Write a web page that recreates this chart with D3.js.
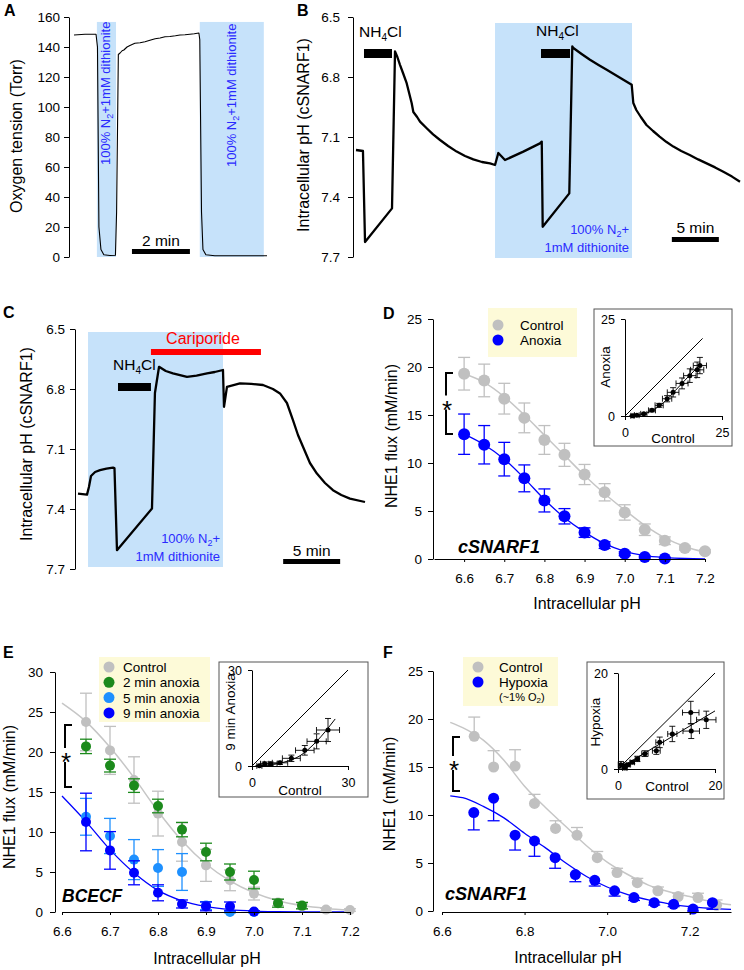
<!DOCTYPE html>
<html>
<head>
<meta charset="utf-8">
<script src="https://cdn.jsdelivr.net/npm/d3@7"></script>
<style>
  body { margin: 0; background: #fff; }
  svg { display: block; }
</style>
</head>
<body>
<svg id="fig" width="744" height="970"></svg>
<script>
// ---------- panel A: oxygen tension (time in min, Torr) ----------
const aTime = [0, 0.38, 0.76, 0.81, 0.86, 0.93, 1.03, 1.24, 1.43, 1.47, 1.53, 1.59, 1.66, 1.72, 1.83, 1.93, 2.1, 2.28, 2.45, 2.62, 2.8, 2.97, 3.14, 3.31, 3.5, 3.66, 3.83, 4.0, 4.15, 4.31, 4.34, 4.40, 4.45, 4.55, 4.86, 6.66];
const aTorr = [148, 148.5, 148.5, 140, 20, 5, 1.5, 1, 1.2, 30, 135, 136, 137.5, 138, 140, 141, 142.5, 142.8, 143.5, 144.5, 145.5, 146, 146.8, 147, 147.5, 148, 148.2, 148.5, 148.8, 149.3, 145, 30, 5, 1.5, 0.8, 0.8];
const aTicks = [0, 20, 40, 60, 80, 100, 120, 140, 160];
const aAnoxia = [[0.79, 1.45], [4.34, 6.55]];

// ---------- panel B: pHi trace ----------
const bTime = [0, 0.74, 0.96, 3.83, 4.15, 4.4, 4.68, 5.0, 5.39, 5.92, 6.1, 6.5, 6.81, 7.52, 8.2, 8.94, 9.8, 10.71, 11.6, 12.48, 13.4, 14.26, 14.79, 15.14, 15.85, 17.8, 19.57, 19.76, 19.86, 22.69, 23.01, 23.12, 24.0, 24.89, 25.8, 26.67, 27.6, 28.44, 29.33, 29.50, 29.82, 30.3, 30.9, 31.6, 32.3, 33.0, 33.76, 34.6, 35.5, 36.4, 37.3, 38.2, 39.08, 40.0, 40.85];
const bPH = [7.165, 7.17, 7.625, 7.457, 6.672, 6.70, 6.739, 6.78, 6.831, 6.93, 6.975, 7.0, 7.023, 7.056, 7.087, 7.115, 7.145, 7.173, 7.195, 7.212, 7.225, 7.232, 7.24, 7.18, 7.215, 7.173, 7.132, 7.123, 7.549, 7.382, 6.647, 6.655, 6.685, 6.714, 6.74, 6.764, 6.79, 6.814, 6.839, 6.93, 6.965, 7.0, 7.04, 7.07, 7.098, 7.124, 7.148, 7.17, 7.19, 7.212, 7.232, 7.252, 7.274, 7.298, 7.324];
const bAnoxia = [14.79, 29.36];
const bNH4 = [[0.85, 3.83], [19.68, 22.77]];
const phTicks = [6.5, 6.8, 7.1, 7.4, 7.7];

// ---------- panel C: pHi trace with cariporide ----------
const cTime = [0, 0.79, 0.96, 1.14, 1.5, 1.93, 2.5, 3.07, 3.2, 3.42, 6.49, 6.75, 7.11, 7.7, 8.33, 9.56, 10.4, 11.32, 12.0, 12.72, 12.81, 13.07, 14.21, 15.2, 16.23, 17.1, 17.72, 18.33, 18.86, 19.3, 19.74, 20.35, 20.96, 21.67, 22.37, 23.1, 23.86, 25.18];
const cPH = [7.323, 7.328, 7.29, 7.235, 7.215, 7.206, 7.198, 7.193, 7.195, 7.606, 7.398, 6.82, 6.689, 6.71, 6.722, 6.739, 6.733, 6.722, 6.715, 6.705, 6.889, 6.789, 6.772, 6.774, 6.78, 6.80, 6.822, 6.87, 6.956, 7.03, 7.089, 7.17, 7.223, 7.27, 7.306, 7.33, 7.348, 7.365];
const cAnoxia = [0.88, 12.72];
const cNH4 = [3.51, 6.40];
const cCariporide = [6.40, 16.05];

// ---------- panel D: NHE1 flux, cSNARF1 ----------
const dPH = [6.6, 6.65, 6.7, 6.75, 6.8, 6.85, 6.9, 6.95, 7.0, 7.05, 7.1, 7.15, 7.2];
const dControl = [19.3, 18.6, 16.7, 14.7, 12.4, 10.85, 8.8, 6.95, 4.85, 3.05, 1.9, 1.15, 0.8];
const dControlErr = [1.7, 1.7, 1.6, 1.55, 1.5, 1.2, 1.05, 0.9, 0.8, 0.6, 0.4, 0.2, 0.15];
const dAnoxia = [13.0, 11.9, 10.4, 8.4, 6.1, 4.45, 2.75, 1.45, 0.55, 0.2, 0.05];
const dAnoxiaErr = [2.1, 2.0, 1.75, 1.4, 1.2, 0.8, 0.5, 0.35, 0.2, 0.1, 0.1];
const dFitControl = [19.3, 18.4, 16.9, 15.0, 12.9, 10.8, 8.7, 6.8, 5.1, 3.5, 2.2, 1.3, 0.7];
const dFitAnoxia = [13.0, 11.9, 10.4, 8.4, 6.2, 4.3, 2.8, 1.6, 0.8, 0.35, 0.15, 0.05, 0.02];
const dInsetFitX = [1.5, 4, 7, 10, 13, 16, 19.5];
const dInsetFitY = [0, 0.3, 1.4, 3.5, 6.6, 9.8, 13.3];
const dLegend = ['Control', 'Anoxia'];

// ---------- panel E: NHE1 flux, BCECF ----------
const ePH = [6.65, 6.7, 6.75, 6.8, 6.85, 6.9, 6.95, 7.0, 7.05, 7.1, 7.15, 7.2];
const eControl = [23.75, 20.2, 16.5, 12.3, 8.75, 5.83, 3.96, 2.3, 1.2, 0.7, 0.3, 0.25];
const eControlErr = [3.6, 3.0, 2.9, 2.8, 2.4, 2.0, 1.3, 0.8, 0.4, 0.3, 0.2, 0.15];
const eAnox2 = [20.7, 18.3, 15.8, 13.25, 10.3, 7.5, 5.0, 4.0, 1.1, 0.8];
const eAnox2Err = [0.9, 0.8, 0.85, 0.85, 0.9, 1.1, 1.0, 1.1, 0.5, 0.4];
const eAnox5 = [11.9, 9.5, 6.55, 5.5, 5.0, 0.8, 0.0, 0.0];
const eAnox5Err = [2.3, 2.2, 2.5, 2.3, 2.3, 0.5, 0.1, 0.1];
const eAnox9 = [11.25, 7.7, 4.9, 2.4, 1.0, 0.7, 0.7, 0.05];
const eAnox9Err = [3.6, 2.35, 1.5, 1.0, 0.5, 0.55, 0.55, 0.1];
const eFitPH = [6.6, 6.65, 6.7, 6.75, 6.8, 6.85, 6.9, 6.95, 7.0, 7.05, 7.1, 7.15, 7.2];
const eFitControl = [26.1, 23.8, 20.6, 16.8, 12.6, 8.9, 6.0, 3.9, 2.4, 1.4, 0.8, 0.45, 0.25];
const eFitAnoxia = [14.5, 11.3, 7.8, 4.9, 2.7, 1.4, 0.7, 0.3, 0.12, 0.05, 0.02, 0.01, 0];
const eInsetFitX = [1, 5, 10, 15, 20, 26];
const eInsetFitY = [0, 0.3, 1.2, 3.2, 7.5, 14.7];
const eLegend = ['Control', '2 min anoxia', '5 min anoxia', '9 min anoxia'];

// ---------- panel F: NHE1, hypoxia ----------
const fCtrlPH = [6.678, 6.725, 6.777, 6.824, 6.875, 6.927, 6.976, 7.024, 7.073, 7.123, 7.172, 7.22, 7.265];
const fControl = [18.2, 15.0, 15.1, 11.2, 8.6, 7.9, 5.55, 4.0, 2.95, 2.1, 1.5, 1.4, 0.6];
const fControlErr = [2.0, 1.7, 1.7, 0.95, 0.8, 0.8, 0.65, 0.45, 0.45, 0.4, 0.35, 0.45, 0.55];
const fHypPH = [6.677, 6.725, 6.777, 6.824, 6.874, 6.923, 6.97, 7.018, 7.065, 7.114, 7.161, 7.208, 7.255];
const fHypoxia = [10.25, 11.75, 7.9, 7.3, 5.55, 3.8, 3.2, 2.1, 1.4, 0.87, 0.7, 0.2, 0.87];
const fHypoxiaErr = [1.8, 2.35, 1.55, 1.6, 1.1, 0.75, 0.6, 0.55, 0.3, 0.25, 0.25, 0.2, 0.7];
const fFitPH = [6.62, 6.65, 6.7, 6.75, 6.8, 6.85, 6.9, 6.95, 7.0, 7.05, 7.1, 7.15, 7.2, 7.25, 7.3];
const fFitControl = [19.65, 19.1, 17.8, 15.7, 13.0, 10.8, 8.8, 6.8, 5.1, 3.8, 2.7, 2.0, 1.5, 1.0, 0.65];
const fFitHypoxia = [12.0, 11.8, 10.9, 9.7, 8.1, 6.6, 5.0, 3.6, 2.5, 1.7, 1.15, 0.75, 0.45, 0.28, 0.17];
const fInsetFitX = [0, 20];
const fInsetFitY = [0, 12.1];

const FONT = "'Liberation Sans', Arial, Helvetica, sans-serif";
const GRAY = '#c0c0c0', GRAYLINE = '#c6c6c6', BLUE = '#0000ff', LBLUE = '#1e90ff', GREEN = '#1c8a1c';
const BG = '#c6e2fa', LEG = '#fdfad8', TXTBLUE = '#2a2aff';

const svg = d3.select('#fig').attr('font-family', FONT);
svg.append('rect').attr('width', 744).attr('height', 970).attr('fill', '#fff');

// ---------- helpers ----------
function styleAxis(g, size) {
  g.attr('font-family', FONT);
  g.select('.domain').attr('stroke', '#000').attr('stroke-width', 1);
  g.selectAll('.tick line').attr('stroke', '#000');
  g.selectAll('.tick text').attr('font-size', size).attr('fill', '#000');
}
function yAxis(x, scale, ticks, fmt, pad, size = 13.5, ts = 5) {
  const g = svg.append('g').attr('transform', `translate(${x},0)`)
    .call(d3.axisLeft(scale).tickValues(ticks).tickFormat(fmt).tickSize(ts).tickSizeOuter(0).tickPadding(pad));
  styleAxis(g, size);
}
function xAxis(y, scale, ticks, fmt, pad, size = 13.5, ts = 3) {
  const g = svg.append('g').attr('transform', `translate(0,${y})`)
    .call(d3.axisBottom(scale).tickValues(ticks).tickFormat(fmt).tickSize(ts).tickSizeOuter(0).tickPadding(pad));
  styleAxis(g, size);
}
function text(t, x, y, size, opt = {}) {
  return svg.append('text').attr('x', x).attr('y', y).attr('font-size', size)
    .attr('text-anchor', opt.anchor || 'start').attr('fill', opt.fill || '#000')
    .attr('font-weight', opt.weight || 'normal').attr('font-style', opt.style || 'normal').text(t);
}
function vtext(t, x, y, size, anchor = 'middle', fill = '#000') {
  return svg.append('text').attr('transform', `translate(${x},${y}) rotate(-90)`)
    .attr('text-anchor', anchor).attr('font-size', size).attr('fill', fill).text(t);
}
function bar(x0, x1, y, h, fill) {
  svg.append('rect').attr('x', x0).attr('y', y).attr('width', x1 - x0).attr('height', h).attr('fill', fill);
}
function trace(xs, ys, x, y, w) {
  svg.append('path').datum(xs.map((t, i) => [t, ys[i]]))
    .attr('d', d3.line().x(d => x(d[0])).y(d => y(d[1])))
    .attr('fill', 'none').attr('stroke', '#000').attr('stroke-width', w).attr('stroke-linejoin', 'round');
}
function fit(xs, ys, x, y, color, w) {
  svg.append('path').datum(xs.map((t, i) => [t, ys[i]]))
    .attr('d', d3.line().curve(d3.curveMonotoneX).x(d => x(d[0])).y(d => y(d[1])))
    .attr('fill', 'none').attr('stroke', color).attr('stroke-width', w);
}
function nh4cl(x, y, anchor = 'start') {
  const t = svg.append('text').attr('x', x).attr('y', y).attr('font-size', 15.5).attr('text-anchor', anchor);
  t.append('tspan').text('NH');
  t.append('tspan').text('4').attr('font-size', 10).attr('dy', 4);
  t.append('tspan').text('Cl').attr('dy', -4);
}
function n2label(x, y) {
  const t = svg.append('text').attr('x', x).attr('y', y).attr('font-size', 13)
    .attr('text-anchor', 'end').attr('fill', TXTBLUE);
  t.append('tspan').text('100% N');
  t.append('tspan').text('2').attr('font-size', 9).attr('dy', 3);
  t.append('tspan').text('+').attr('dy', -3);
  text('1mM dithionite', x, y + 18, 13, { anchor: 'end', fill: TXTBLUE });
}
// error bars + points; dir: both | up | down
function series(x, y, xs, vs, es, color, r, cap, dir = 'both') {
  const d = vs.map((v, i) => ({ x: xs[i], v, e: es[i] }));
  const g = svg.append('g').attr('stroke', color).attr('stroke-width', 1.3);
  const lo = p => dir === 'up' ? p.v : p.v - p.e;
  const hi = p => dir === 'down' ? p.v : p.v + p.e;
  g.selectAll('line.v').data(d).join('line').attr('class', 'v')
    .attr('x1', p => x(p.x)).attr('x2', p => x(p.x)).attr('y1', p => y(hi(p))).attr('y2', p => y(lo(p)));
  const caps = [];
  d.forEach(p => {
    if (dir !== 'down') caps.push({ x: p.x, v: hi(p) });
    if (dir !== 'up') caps.push({ x: p.x, v: lo(p) });
  });
  g.selectAll('line.c').data(caps).join('line').attr('class', 'c')
    .attr('x1', p => x(p.x) - cap).attr('x2', p => x(p.x) + cap).attr('y1', p => y(p.v)).attr('y2', p => y(p.v));
  svg.append('g').selectAll('circle').data(d).join('circle')
    .attr('cx', p => x(p.x)).attr('cy', p => y(p.v)).attr('r', r).attr('fill', color);
}
// significance bracket with asterisk sitting on its vertical stroke
function bracket(x, y0, y1) {
  const m = (y0 + y1) / 2;
  svg.append('path').attr('d', `M${x + 7},${y0}H${x}V${m - 8}M${x},${m + 6}V${y1}H${x + 7}`)
    .attr('fill', 'none').attr('stroke', '#000').attr('stroke-width', 2);
  text('*', x + 1, m + 15, 26, { anchor: 'middle' });
}
function legend(box, items, colors, cx, tx, y0, step, r) {
  svg.append('rect').attr('x', box[0]).attr('y', box[1]).attr('width', box[2] - box[0])
    .attr('height', box[3] - box[1]).attr('fill', LEG);
  items.forEach((t, i) => {
    svg.append('circle').attr('cx', cx).attr('cy', y0 + i * step).attr('r', r).attr('fill', colors[i]);
    text(t, tx, y0 + i * step + 5, 13.5);
  });
}
// inset: control vs treated flux with x/y error bars
function inset(o) {
  svg.append('rect').attr('x', o.box[0]).attr('y', o.box[1]).attr('width', o.box[2] - o.box[0])
    .attr('height', o.box[3] - o.box[1]).attr('fill', '#fff').attr('stroke', '#555').attr('stroke-width', 1);
  const x = d3.scaleLinear().domain([0, o.max]).range(o.xr);
  const y = d3.scaleLinear().domain([0, o.max]).range(o.yr);
  yAxis(o.xr[0], y, [0, o.max], d3.format('d'), 6, 12.5, 4);
  xAxis(o.yr[0], x, [0, o.max], d3.format('d'), 8, 12.5, 4);
  svg.append('line').attr('x1', x(0)).attr('y1', y(0)).attr('x2', x(o.ident)).attr('y2', y(o.ident))
    .attr('stroke', '#000').attr('stroke-width', 1);
  fit(o.fitX, o.fitY, x, y, '#000', 1);
  const n = Math.min(o.xs.length, o.ys.length);
  const d = d3.range(n).map(i => ({ cx: o.xs[i], cy: o.ys[i], ex: o.xe[i], ey: o.ye[i] }));
  const g = svg.append('g').attr('stroke', '#000').attr('stroke-width', 0.9);
  d.forEach(p => {
    g.append('line').attr('x1', x(p.cx - p.ex)).attr('x2', x(p.cx + p.ex)).attr('y1', y(p.cy)).attr('y2', y(p.cy));
    g.append('line').attr('x1', x(p.cx)).attr('x2', x(p.cx)).attr('y1', y(p.cy - p.ey)).attr('y2', y(p.cy + p.ey));
    [p.cx - p.ex, p.cx + p.ex].forEach(v => g.append('line').attr('x1', x(v)).attr('x2', x(v)).attr('y1', y(p.cy) - 3).attr('y2', y(p.cy) + 3));
    [p.cy - p.ey, p.cy + p.ey].forEach(v => g.append('line').attr('x1', x(p.cx) - 3).attr('x2', x(p.cx) + 3).attr('y1', y(v)).attr('y2', y(v)));
  });
  svg.append('g').selectAll('circle').data(d).join('circle')
    .attr('cx', p => x(p.cx)).attr('cy', p => y(p.cy)).attr('r', 2.5).attr('fill', '#000');
  text('Control', o.ctl[0], o.ctl[1], 13.5, { anchor: 'middle' });
  vtext(o.ylab, o.ylabPos[0], o.ylabPos[1], 13.5);
}

// ---------- panel letters ----------
[['A', 4, 16], ['B', 297, 16], ['C', 3, 318], ['D', 383, 319], ['E', 3, 658], ['F', 383, 658]]
  .forEach(([t, x, y]) => text(t, x, y, 16, { weight: 'bold' }));

// ---------- panel A ----------
{
  const x = d3.scaleLinear().domain([0, 6.66]).range([74, 267]);
  const y = d3.scaleLinear().domain([0, 160]).range([257, 17]);
  aAnoxia.forEach(([t0, t1]) => bar(x(t0), x(t1), y(156.7), y(0) - y(156.7), BG));
  [[110, 165], [236, 167]].forEach(([px, py]) => {
    const t = svg.append('text').attr('transform', `translate(${px},${py}) rotate(-90)`)
      .attr('font-size', 13).attr('fill', TXTBLUE);
    t.append('tspan').text('100% N');
    t.append('tspan').text('2').attr('font-size', 9).attr('dy', 3);
    t.append('tspan').text('+1mM dithionite').attr('dy', -3);
  });
  trace(aTime, aTorr, x, y, 1.1);
  yAxis(69, y, aTicks, d3.format('d'), 4);
  vtext('Oxygen tension (Torr)', 22, 136, 16);
  bar(x(2.0), x(4.0), 249, 5, '#000');
  text('2 min', x(3.0), 246, 15.5, { anchor: 'middle' });
}

// ---------- panel B ----------
{
  const x = d3.scaleLinear().domain([0, 40.85]).range([356, 740]);
  const y = d3.scaleLinear().domain([6.5, 7.7]).range([17, 257]);
  bar(x(bAnoxia[0]), x(bAnoxia[1]), y(6.53), y(7.705) - y(6.53), BG);
  trace(bTime, bPH, x, y, 2.3);
  yAxis(353, y, phTicks, d3.format('.1f'), 8);
  vtext('Intracellular pH (cSNARF1)', 309, 135, 16);
  bNH4.forEach(([t0, t1]) => bar(x(t0), x(t1), 49, 9, '#000'));
  nh4cl(359, 37);
  nh4cl(536, 36);
  n2label(629, 234);
  bar(x(33.6), x(38.6), 237, 5, '#000');
  text('5 min', x(36.1), 233, 15.5, { anchor: 'middle' });
}

// ---------- panel C ----------
{
  const x = d3.scaleLinear().domain([0, 25.18]).range([78, 365]);
  const y = d3.scaleLinear().domain([6.5, 7.7]).range([329, 569]);
  bar(x(cAnoxia[0]), x(cAnoxia[1]), y(6.515), y(7.69) - y(6.515), BG);
  trace(cTime, cPH, x, y, 2.3);
  yAxis(75, y, phTicks, d3.format('.1f'), 5);
  vtext('Intracellular pH (cSNARF1)', 32, 444, 16);
  bar(x(cCariporide[0]), x(cCariporide[1]), 349, 6, '#ff0000');
  text('Cariporide', 203, 344, 16, { anchor: 'middle', fill: '#ff0000' });
  bar(x(cNH4[0]), x(cNH4[1]), 383, 8, '#000');
  nh4cl(113, 370);
  n2label(220, 543);
  bar(x(18.0), x(23.0), 559, 5, '#000');
  text('5 min', x(20.5), 556, 15.5, { anchor: 'middle' });
}

// ---------- panel D ----------
{
  const x = d3.scaleLinear().domain([6.525, 7.2]).range([434, 705]);
  const y = d3.scaleLinear().domain([0, 25]).range([559, 319]);
  fit(dPH, dFitControl, x, y, GRAYLINE, 1.5);
  fit(dPH, dFitAnoxia, x, y, BLUE, 1.3);
  series(x, y, dPH, dControl, dControlErr, GRAY, 6, 6);
  series(x, y, dPH, dAnoxia, dAnoxiaErr, BLUE, 6, 6);
  yAxis(433, y, [0, 5, 10, 15, 20, 25], d3.format('d'), 6);
  xAxis(559, x, d3.range(6.6, 7.21, 0.1), d3.format('.1f'), 11);
  vtext('NHE1 flux (mM/min)', 397, 436, 16);
  text('Intracellular pH', 587, 609, 16, { anchor: 'middle' });
  legend([488, 308, 577, 357], dLegend, [GRAY, BLUE], 498, 520, 325, 15, 5.5);
  bracket(446, 373, 434);
  text('cSNARF1', 458, 553, 18, { weight: 'bold', style: 'italic' });
  inset({
    box: [594, 309, 732, 446], max: 25, xr: [625, 722], yr: [416, 319], ident: 20,
    xs: dControl, ys: dAnoxia, xe: dControlErr, ye: dAnoxiaErr,
    fitX: dInsetFitX, fitY: dInsetFitY, ctl: [673, 443], ylab: 'Anoxia', ylabPos: [610, 367]
  });
}

// ---------- panel E ----------
{
  const x = d3.scaleLinear().domain([6.6, 7.2]).range([62, 350]);
  const y = d3.scaleLinear().domain([0, 30]).range([912, 672]);
  fit(eFitPH, eFitControl, x, y, GRAYLINE, 1.5);
  fit(eFitPH, eFitAnoxia, x, y, BLUE, 1.3);
  series(x, y, ePH, eControl, eControlErr, GRAY, 5, 6);
  series(x, y, ePH, eAnox2, eAnox2Err, GREEN, 5, 6);
  series(x, y, ePH, eAnox5, eAnox5Err, LBLUE, 5, 6);
  series(x, y, ePH, eAnox9, eAnox9Err, BLUE, 5, 6);
  yAxis(55, y, [0, 5, 10, 15, 20, 25, 30], d3.format('d'), 7);
  xAxis(912, x, d3.range(6.6, 7.21, 0.1), d3.format('.1f'), 11);
  vtext('NHE1 flux (mM/min)', 15, 797, 16);
  text('Intracellular pH', 207, 964, 16, { anchor: 'middle' });
  legend([99, 657, 210, 722], eLegend, [GRAY, GREEN, LBLUE, BLUE], 109, 123, 667, 15.3, 5.5);
  bracket(65, 725, 787);
  text('BCECF', 62, 902, 17.5, { weight: 'bold', style: 'italic' });
  inset({
    box: [219, 662, 368, 797], max: 30, xr: [252, 348], yr: [766, 670], ident: 30,
    xs: eControl.slice(0, 8), ys: eAnox9, xe: eControlErr, ye: eAnox9Err,
    fitX: eInsetFitX, fitY: eInsetFitY, ctl: [300, 795], ylab: '9 min Anoxia', ylabPos: [235, 712]
  });
}

// ---------- panel F ----------
{
  const x = d3.scaleLinear().domain([6.6, 7.3]).range([442, 731]);
  const y = d3.scaleLinear().domain([0, 25]).range([911, 671]);
  fit(fFitPH, fFitControl, x, y, GRAYLINE, 1.5);
  fit(fFitPH, fFitHypoxia, x, y, BLUE, 1.3);
  series(x, y, fCtrlPH, fControl, fControlErr, GRAY, 5.5, 6, 'up');
  series(x, y, fHypPH, fHypoxia, fHypoxiaErr, BLUE, 5.5, 6, 'down');
  yAxis(433, y, [0, 5, 10, 15, 20, 25], d3.format('d'), 5);
  xAxis(912, x, [6.6, 6.8, 7.0, 7.2], d3.format('.1f'), 11);
  vtext('NHE1 (mM/min)', 395, 794, 16);
  text('Intracellular pH', 568, 963, 16, { anchor: 'middle' });
  legend([463, 657, 558, 706], ['Control', 'Hypoxia'], [GRAY, BLUE], 478, 499, 667, 15, 5.5);
  const t = svg.append('text').attr('x', 499).attr('y', 701).attr('font-size', 11);
  t.append('tspan').text('(~1% O');
  t.append('tspan').text('2').attr('font-size', 8).attr('dy', 2);
  t.append('tspan').text(')').attr('dy', -2);
  bracket(453, 737, 791);
  text('cSNARF1', 445, 900, 18, { weight: 'bold', style: 'italic' });
  inset({
    box: [587, 662, 724, 799], max: 20, xr: [618, 715], yr: [769, 673], ident: 20,
    xs: fControl, ys: fHypoxia, xe: fControlErr, ye: fHypoxiaErr,
    fitX: fInsetFitX, fitY: fInsetFitY, ctl: [667, 791], ylab: 'Hypoxia', ylabPos: [600, 722]
  });
}
</script>
</body>
</html>
